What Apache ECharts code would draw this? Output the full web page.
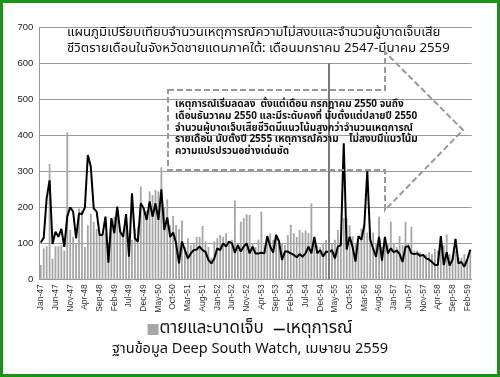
<!DOCTYPE html>
<html><head><meta charset="utf-8">
<script src="https://cdn.jsdelivr.net/npm/echarts@6/dist/echarts.min.js"></script>
<style>html,body{margin:0;padding:0;background:#fff}#c{width:500px;height:377px}</style>
</head><body><div id="c"></div>
<script>
const monthNames = ['Jan','Feb','Mar','Apr','May','Jun','Jul','Aug','Sep','Oct','Nov','Dec'];
const years = ['47','48','49','50','51','52','53','54','55','56','57','58','59'];
const categories = [];
years.forEach(y => monthNames.forEach(m => { if (categories.length < 147) categories.push(m + '-' + y); }));

const casualties = [
 40,86,92,320,57,92,92,95,80,408,137,118,
 100,197,192,90,150,182,160,140,123,120,130,100,
 165,174,180,140,130,150,120,110,140,146,257,200,
 190,244,234,248,244,311,200,222,150,176,151,140,
 163,90,114,95,100,118,118,148,105,90,60,105,
 114,123,118,128,100,110,219,100,160,170,181,179,
 100,90,110,188,95,110,128,110,120,110,100,96,
 123,151,128,118,137,130,135,128,211,110,95,90,
 100,109,100,100,110,137,120,170,170,150,120,100,
 100,140,155,130,130,130,100,174,90,110,100,160,
 100,90,120,95,160,100,146,80,80,75,70,70,
 75,70,85,80,100,95,125,70,65,80,60,60,
 70,55,80
];
const incidents = [
 102,115,225,275,98,132,118,140,90,174,200,188,
 114,183,181,200,345,313,197,188,123,123,174,46,
 170,128,202,132,118,181,63,239,114,105,211,197,
 165,216,174,211,165,250,137,172,118,130,100,44,
 105,81,58,72,81,83,91,81,76,54,44,58,
 86,81,100,91,105,100,74,95,77,91,100,72,
 91,72,72,74,72,120,91,74,123,105,54,77,
 77,72,68,61,70,63,72,91,72,118,72,81,
 63,77,75,81,58,91,95,378,83,118,90,49,
 120,110,150,300,110,85,62,118,52,118,72,86,
 75,80,70,48,90,92,72,70,72,65,68,58,
 55,48,40,40,120,40,75,38,55,112,44,48,
 35,55,82
];
const yTicks = [0,100,200,300,400,500,600,700];
const seriesNames = ['ตายและบาดเจ็บ','เหตุการณ์'];
const markerMonth = 'Mar-55';

const thai = "'Noto Sans Thai','Tahoma','Leelawadee UI','Garuda','Loma',sans-serif";
const chart = echarts.init(document.getElementById('c'));
chart.setOption({
  animation: false,
  backgroundColor: '#fff',
  title: {
    text: 'แผนภูมิเปรียบเทียบจำนวนเหตุการณ์ความไม่สงบและจำนวนผู้บาดเจ็บเสีย\nชีวิตรายเดือนในจังหวัดชายแดนภาคใต้: เดือนมกราคม 2547-มีนาคม 2559',
    left: 67, top: 25, padding: 0,
    textStyle: {fontFamily: thai, fontSize: 13.2, fontWeight: 'normal', color: '#111', lineHeight: 16}
  },
  legend: {
    data: [{name: seriesNames[0], icon: 'rect'}, {name: seriesNames[1], icon: 'path://M0,0H14V2H0Z'}],
    top: 316, left: 'center', symbolKeepAspect: true,
    itemWidth: 11, itemHeight: 11, itemGap: 10,
    textStyle: {fontFamily: thai, fontSize: 17, color: '#111', padding: [0,0,0,-4]}
  },
  grid: {left: 39.3, right: 28.3, top: 27.3, bottom: 97.7, containLabel: false},
  xAxis: {
    type: 'category', data: categories, boundaryGap: true,
    axisLine: {lineStyle: {color: '#999', width: 1}},
    axisTick: {interval: 4, alignWithLabel: true, length: 3, lineStyle: {color: '#999'}},
    axisLabel: {interval: 4, rotate: 90, fontSize: 8.5, color: '#333', margin: 5, fontFamily: 'Liberation Sans, Arial, sans-serif'},
    splitLine: {show: false}
  },
  yAxis: {
    type: 'value', min: yTicks[0], max: yTicks[yTicks.length-1], interval: 100,
    axisLine: {show: true, lineStyle: {color: '#999'}},
    axisTick: {show: false},
    axisLabel: {fontSize: 9.5, color: '#222', margin: 6, fontFamily: 'Liberation Sans, Arial, sans-serif'},
    splitLine: {lineStyle: {color: '#999', width: 1}}
  },
  series: [
    {
      name: seriesNames[0], type: 'bar', data: casualties, barWidth: '62%',
      itemStyle: {color: '#a6a6a6'},
      markLine: {
        silent: true, symbol: 'none', label: {show: false},
        lineStyle: {color: '#7a7a7a', width: 2, type: 'solid'},
        data: [[{coord: [markerMonth, 0]}, {coord: [markerMonth, 600]}]]
      }
    },
    {
      name: seriesNames[1], type: 'line', data: incidents, symbol: 'none', showSymbol: false,
      lineStyle: {color: '#000', width: 2}, itemStyle: {color: '#000'}
    }
  ],
  graphic: [
    {type: 'polygon', silent: true, z: 50,
     shape: {points: [[168,90],[385,90],[385,52],[463,130],[385,210],[385,170],[168,170]]},
     style: {fill: 'none', stroke: '#999', lineWidth: 2, lineDash: [6,3]}},
    {type: 'text', left: 175, top: 99, z: 60,
     style: {text: 'เหตุการณ์เริ่มลดลง  ตั้งแต่เดือน กรกฎาคม 2550 จนถึง\nเดือนธันวาคม 2550 และมีระดับคงที่ นับตั้งแต่ปลายปี 2550\nจำนวนผู้บาดเจ็บเสียชีวิตมีแนวโน้มสูงกว่าจำนวนเหตุการณ์\nรายเดือน นับตั้งปี 2555 เหตุการณ์ความ    ไม่สงบมีแนวโน้ม\nความแปรปรวนอย่างเด่นชัด',
       font: 'bold 10px ' + thai, fill: '#111', lineHeight: 11.8}},
    {type: 'text', left: 'center', top: 343, z: 60,
     style: {text: 'ฐานข้อมูล Deep South Watch, เมษายน 2559', font: '14.5px ' + thai, fill: '#111'}},
    {type: 'rect', silent: true, z: 100,
     shape: {x: 1.5, y: 1.5, width: 497, height: 374},
     style: {fill: 'none', stroke: '#199419', lineWidth: 3}}
  ]
});
</script></body></html>
